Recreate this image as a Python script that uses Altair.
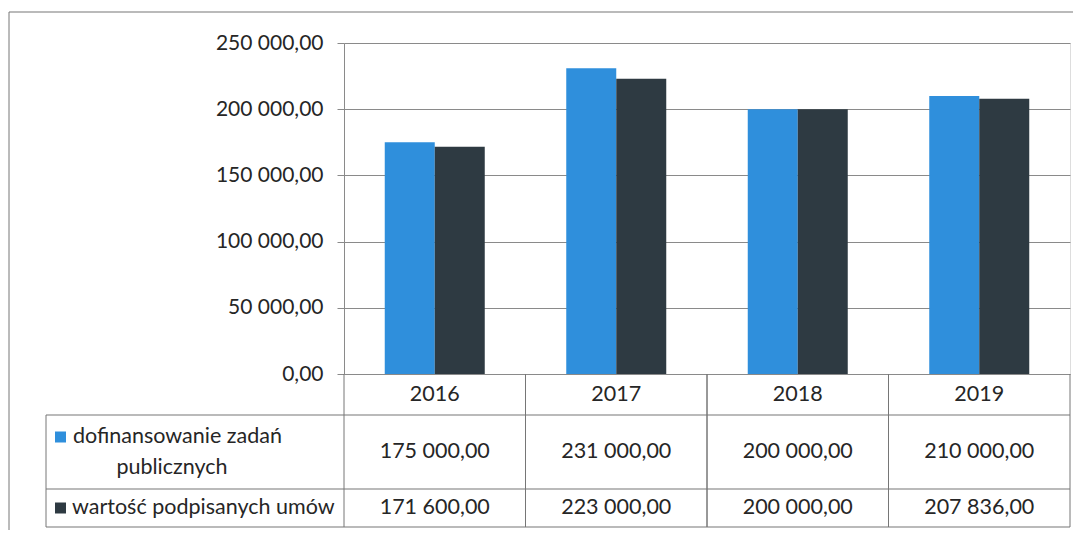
import altair as alt
import pandas as pd

years = ["2016", "2017", "2018", "2019"]
series = ["dofinansowanie zadań publicznych", "wartość podpisanych umów"]
dofinansowanie = [175000, 231000, 200000, 210000]
wartosc = [171600, 223000, 200000, 207836]
colors = ["#2f8fdc", "#2e3a42"]

def fmt(v):
    return f"{v:,.2f}".replace(",", " ").replace(".", ",")

rows = []
for s, vals in zip(series, [dofinansowanie, wartosc]):
    for y, v in zip(years, vals):
        rows.append({"year": y, "series": s, "value": v, "label": fmt(v)})
df = pd.DataFrame(rows)
ydf = pd.DataFrame({"year": years})
one = pd.DataFrame({"k": [0]})

W, H = 726, 331
GRID = "#8a8a8a"
LINE = "#767676"
TXT = "#262626"
FONT = "Lato"
FS_AX = 21
FS = 21.5

xenc = alt.X("year:N", sort=years, axis=None,
             scale=alt.Scale(paddingInner=0, paddingOuter=0))
color = alt.Color("series:N", scale=alt.Scale(domain=series, range=colors), legend=None)

bars = alt.Chart(df).mark_bar().encode(
    x=xenc,
    xOffset=alt.XOffset("series:N", sort=series,
                        scale=alt.Scale(paddingInner=0, paddingOuter=0.815)),
    y=alt.Y("value:Q", title=None,
            scale=alt.Scale(domain=[0, 250000], nice=False),
            axis=alt.Axis(values=[0, 50000, 100000, 150000, 200000, 250000],
                          labelExpr="replace(replace(format(datum.value, ',.2f'), regexp(',', 'g'), ' '), '.', ',')",
                          labelFont=FONT, labelFontSize=FS_AX, labelColor=TXT,
                          labelPadding=14, tickSize=7, tickColor=GRID,
                          domainColor=GRID, gridColor=GRID, grid=True)),
    color=color,
)

def hrule(y, x1, x2):
    return alt.Chart(one).mark_rule(color=LINE, strokeWidth=1.2).encode(
        x=alt.value(x1), x2=alt.value(x2), y=alt.value(y))

def vrule(x, y1, y2):
    return alt.Chart(one).mark_rule(color=LINE, strokeWidth=1).encode(
        x=alt.value(x), y=alt.value(y1), y2=alt.value(y2))

ROW0_TOP, ROW1_TOP, ROW2_TOP, ROW2_BOT = H, 372, 446, 484
LEG_LEFT = -298

col_lines_start = alt.Chart(ydf).mark_rule(color=LINE, strokeWidth=1).encode(
    x=alt.X("year:N", sort=years, bandPosition=0),
    y=alt.value(ROW0_TOP), y2=alt.value(ROW2_BOT))
col_lines_end = alt.Chart(ydf).mark_rule(color=LINE, strokeWidth=1).encode(
    x=alt.X("year:N", sort=years, bandPosition=1),
    y=alt.value(ROW0_TOP), y2=alt.value(ROW2_BOT))

header = alt.Chart(ydf).mark_text(font=FONT, fontSize=FS, color=TXT, baseline="middle").encode(
    x=alt.X("year:N", sort=years), y=alt.value((ROW0_TOP + ROW1_TOP) / 2), text="year:N")

vals1 = alt.Chart(df).transform_filter(alt.datum.series == series[0]).mark_text(
    font=FONT, fontSize=FS, color=TXT, baseline="middle").encode(
    x=alt.X("year:N", sort=years), y=alt.value((ROW1_TOP + ROW2_TOP) / 2), text="label:N")
vals2 = alt.Chart(df).transform_filter(alt.datum.series == series[1]).mark_text(
    font=FONT, fontSize=FS, color=TXT, baseline="middle").encode(
    x=alt.X("year:N", sort=years), y=alt.value((ROW2_TOP + ROW2_BOT) / 2), text="label:N")

sdf = pd.DataFrame({"series": series})
sq1 = alt.Chart(sdf).transform_filter(alt.datum.series == series[0]).mark_square(
    size=121, opacity=1).encode(x=alt.value(-283.5), y=alt.value(394), color=color)
sq2 = alt.Chart(sdf).transform_filter(alt.datum.series == series[1]).mark_square(
    size=121, opacity=1).encode(x=alt.value(-283.5), y=alt.value((ROW2_TOP + ROW2_BOT) / 2), color=color)

lab1a = alt.Chart(one).mark_text(font=FONT, fontSize=FS, color=TXT, align="left", baseline="middle",
                                 text="dofinansowanie zadań").encode(x=alt.value(-271), y=alt.value(394))
lab1b = alt.Chart(one).mark_text(font=FONT, fontSize=FS, color=TXT, align="center", baseline="middle",
                                 text="publicznych").encode(x=alt.value(-172), y=alt.value(425))
lab2 = alt.Chart(one).mark_text(font=FONT, fontSize=FS, color=TXT, align="left", baseline="middle",
                                text="wartość podpisanych umów").encode(x=alt.value(-272), y=alt.value((ROW2_TOP + ROW2_BOT) / 2))

frame = [
    hrule(-31, -335, W + 40),
    vrule(-335, -31, H + 250),
]

table_lines = [
    hrule(ROW1_TOP, LEG_LEFT, W),
    hrule(ROW2_TOP, LEG_LEFT, W),
    hrule(ROW2_BOT, LEG_LEFT, W),
    vrule(LEG_LEFT, ROW1_TOP, ROW2_BOT),
]

chart = alt.layer(
    bars, col_lines_start, col_lines_end, *table_lines, *frame,
    header, vals1, vals2, sq1, sq2, lab1a, lab1b, lab2,
).properties(
    width=W, height=H,
    autosize=alt.AutoSizeParams(type="none"),
    padding={"left": 336, "top": 35, "right": 3, "bottom": 156},
).configure_view(stroke=None).configure(background="white")

chart.save("out.html", embed_options={"renderer": "svg", "actions": False})
